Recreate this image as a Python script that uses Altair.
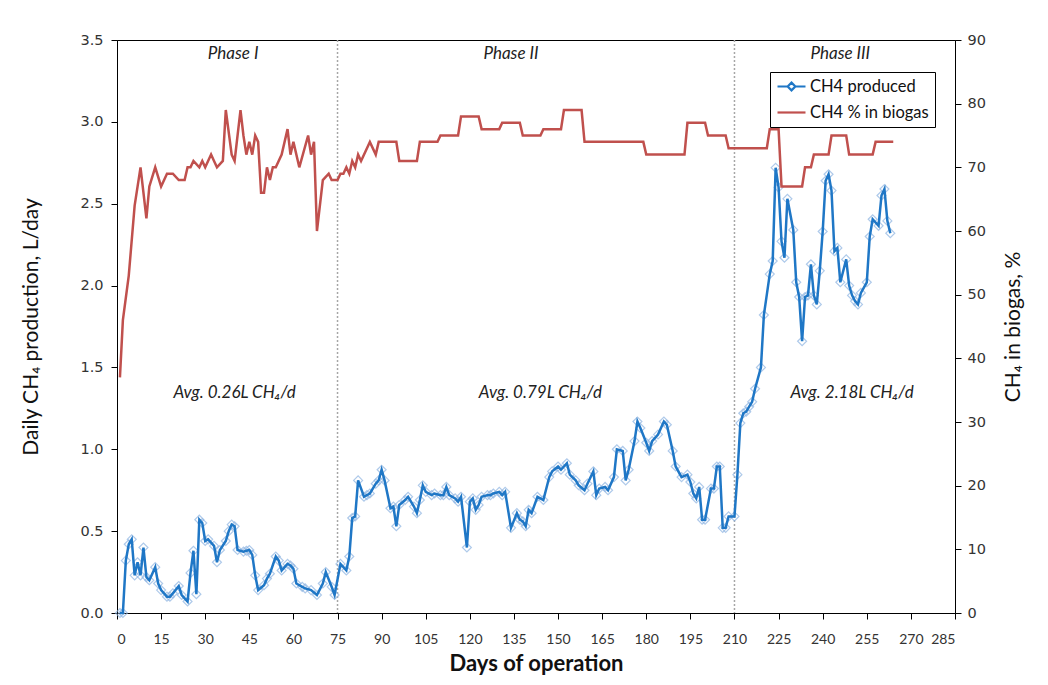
import altair as alt
import pandas as pd

# ---------------- data ----------------
prod_day = [1, 2, 3, 4, 5, 6, 7, 8, 9, 10, 11, 13, 14, 15, 17, 18, 19, 21, 22, 24, 25, 26, 27, 28, 29,
            30, 31, 33, 34, 35, 37, 38, 39, 40, 41, 43, 44, 45, 46, 47, 48, 50, 51, 52, 54, 55, 56, 58,
            59, 60, 61, 63, 64, 66, 68, 70, 71, 73, 74, 76, 78, 79,
            80, 81, 82, 84, 85, 86, 88, 89, 90, 91, 93, 94, 95, 96, 98, 99, 101, 102, 103, 104, 105,
            107, 108, 110, 111, 112, 113, 115, 116, 117, 119, 120, 121, 122, 123, 124, 126, 127, 128,
            130, 131, 132, 134, 136, 137, 138, 139, 140, 141, 143, 145, 147, 148, 150, 151, 153, 154,
            156, 157, 159, 160, 162, 163, 164, 166, 167, 169, 170, 172, 173, 174, 176, 177, 178, 180,
            181, 182, 184, 186, 187, 189, 190, 192, 194, 195, 196, 197, 198, 199, 200, 202, 203, 204,
            205, 206, 207, 208, 210,
            211, 212, 213, 214, 215, 216, 217, 219, 220, 222, 223, 224, 225, 226, 227, 228, 230, 231,
            232, 233, 234, 235, 236, 237, 238, 239, 240, 241, 242, 243, 244, 245, 246, 248, 249, 250,
            251, 252, 253, 255, 256, 257, 259, 260, 261, 262, 263]
prod_val = [0.00, 0.00, 0.32, 0.42, 0.45, 0.23, 0.31, 0.23, 0.40, 0.22, 0.20, 0.28, 0.18, 0.14, 0.10,
            0.10, 0.12, 0.165, 0.11, 0.07, 0.245, 0.38, 0.115, 0.57, 0.55, 0.44, 0.45, 0.41, 0.31,
            0.385, 0.44, 0.50, 0.54, 0.53, 0.385, 0.375, 0.38, 0.385, 0.355, 0.23, 0.14, 0.17, 0.21,
            0.24, 0.345, 0.32, 0.26, 0.30, 0.29, 0.27, 0.18, 0.16, 0.15, 0.14, 0.11, 0.18, 0.25, 0.16,
            0.11, 0.30, 0.26, 0.345,
            0.58, 0.59, 0.81, 0.71, 0.72, 0.73, 0.79, 0.81, 0.875, 0.81, 0.64, 0.65, 0.53, 0.66, 0.69,
            0.71, 0.65, 0.61, 0.69, 0.78, 0.74, 0.72, 0.73, 0.72, 0.72, 0.77, 0.72, 0.70, 0.68, 0.71,
            0.40, 0.68, 0.70, 0.63, 0.66, 0.71, 0.72, 0.72, 0.73, 0.74, 0.72, 0.74, 0.52, 0.61, 0.57,
            0.56, 0.53, 0.63, 0.61, 0.71, 0.69, 0.83, 0.865, 0.895, 0.875, 0.915, 0.845, 0.81, 0.78,
            0.75, 0.79, 0.865, 0.72, 0.76, 0.77, 0.75, 0.83, 1.00, 0.99, 0.81, 0.875, 1.05, 1.17, 1.13,
            1.04, 0.99, 1.05, 1.09, 1.17, 1.15, 0.99, 0.895, 0.83, 0.845, 0.80, 0.73, 0.70, 0.77, 0.57,
            0.57, 0.76, 0.76, 0.895, 0.895, 0.52, 0.52, 0.59, 0.59,
            0.845, 1.16, 1.22, 1.23, 1.26, 1.29, 1.37, 1.50, 1.82, 2.07, 2.15, 2.72, 2.60, 2.27, 2.17,
            2.53, 2.34, 2.02, 1.93, 1.66, 1.93, 1.94, 2.13, 1.94, 1.885, 2.09, 2.33, 2.64, 2.68, 2.58,
            2.21, 2.23, 2.02, 2.16, 2.00, 1.94, 1.905, 1.885, 1.955, 2.02, 2.30, 2.405, 2.365, 2.55,
            2.59, 2.395, 2.32]

pct_day = [1, 2, 4, 6, 8, 10, 11, 13, 15, 17, 19, 21, 23, 24, 25, 26, 28, 29, 30, 32, 33, 34, 36, 37,
           39, 40, 42, 43, 44, 45, 46, 47, 48, 49, 50, 51, 52, 53, 54, 56, 58, 59, 60, 62, 65, 66, 67,
           68, 70, 72, 73, 75, 76, 77, 78, 79, 80, 81, 82, 83, 86, 88, 89, 95, 96, 102, 103, 109, 110,
           116, 117, 123, 124, 130, 131, 137, 138, 144, 145, 151, 152, 158, 159, 179, 180, 193, 194,
           200, 201, 207, 208, 221, 222, 225, 226, 233, 234, 236, 237, 242, 243, 248, 249, 257, 258, 264]
pct_val = [37, 46, 53, 64, 70, 62, 67, 70, 67, 69, 69, 68, 68, 70, 70, 71, 70, 71, 70, 72, 71, 70, 71,
           79, 72, 71, 79, 75, 72, 74, 72, 75, 74, 66, 66, 70, 68, 70, 70, 72, 76, 72, 74, 70, 75, 72,
           74, 60, 68, 69, 68, 68, 69, 69, 70, 69, 71, 70, 72, 71, 74, 72, 74, 74, 71, 71, 74, 74, 75,
           75, 78, 78, 76, 76, 77, 77, 75, 75, 76, 76, 79, 79, 74, 74, 72, 72, 77, 77, 75, 75, 73, 73,
           76, 76, 67, 67, 70, 70, 72, 72, 75, 75, 72, 72, 74, 74]

phase_bounds = [75, 210]

note_text = ["Phase I", "Phase II", "Phase III",
             "Avg. 0.26L CH\u2084/d", "Avg. 0.79L CH\u2084/d", "Avg. 2.18L CH\u2084/d"]
note_day = [39.5, 134, 246, 40, 144, 250]
note_val = [3.415, 3.415, 3.415, 1.345, 1.345, 1.345]

series_names = ["CH4 produced", "CH4 % in biogas"]

# ---------------- colours / styles ----------------
BLUE = "#1F77C6"
BLUE_MARK = "#8DB4E2"
RED = "#C0504D"
TICK_FONT = "DejaVu Sans"
TITLE_FONT = "Lato"

prod_df = pd.DataFrame({"day": prod_day, "val": prod_val})
pct_df = pd.DataFrame({"day": pct_day, "pct": pct_val})
bound_df = pd.DataFrame({"day": phase_bounds})
note_df = pd.DataFrame({"day": note_day, "val": note_val, "label": note_text})
legend_df = pd.DataFrame({"series": series_names})

x_enc = alt.X("day:Q",
              scale=alt.Scale(domain=[0, 285], nice=False, zero=True),
              axis=alt.Axis(values=list(range(0, 286, 15)), title="Days of operation",
                            grid=False, tickSize=6, labelPadding=13,
                            labelFont=TITLE_FONT, labelFontSize=14, labelColor="#333333",
                            titleFont=TITLE_FONT, titleFontSize=22, titleFontWeight="bold",
                            titleColor="#111111", titlePadding=7,
                            domainColor="black", tickColor="black"))

left_scale = alt.Scale(domain=[0, 3.5], nice=False)
left_axis = alt.Axis(values=[0, 0.5, 1.0, 1.5, 2.0, 2.5, 3.0, 3.5], format=".1f",
                     title="Daily CH\u2084 production, L/day", orient="left", grid=False,
                     tickSize=6, labelPadding=8, labelFont=TICK_FONT, labelFontSize=14.5,
                     labelColor="#333333", titleFont=TITLE_FONT, titleFontSize=21,
                     titleFontWeight="normal", titleColor="#111111", titlePadding=38,
                     domainColor="black", tickColor="black")

right_axis = alt.Axis(values=list(range(0, 91, 10)), title="CH\u2084 in biogas, %",
                      orient="right", grid=False, tickSize=6, labelPadding=6,
                      labelFont=TICK_FONT, labelFontSize=14.5, labelColor="#333333",
                      titleFont=TITLE_FONT, titleFontSize=21, titleFontWeight="normal",
                      titleColor="#111111", titlePadding=38, titleAngle=270,
                      titleBaseline="bottom",
                      domainColor="black", tickColor="black")

bounds = alt.Chart(bound_df).mark_rule(color="#A6A6A6", strokeDash=[2, 2], strokeWidth=1.5).encode(
    x=x_enc)

prod_pts = alt.Chart(prod_df).mark_point(shape="diamond", filled=False, size=80,
                                          color=BLUE_MARK, strokeWidth=1.2).encode(
    x=x_enc, y=alt.Y("val:Q", scale=left_scale, axis=left_axis))

prod_line = alt.Chart(prod_df).mark_line(color=BLUE, strokeWidth=2.5).encode(
    x=x_enc, y=alt.Y("val:Q", scale=left_scale, axis=left_axis))

notes = alt.Chart(note_df).mark_text(font=TITLE_FONT, fontSize=17, fontStyle="italic",
                                     color="#222222", align="center", baseline="middle").encode(
    x=x_enc, y=alt.Y("val:Q", scale=left_scale, axis=left_axis), text="label:N")

leg_common = dict(orient="none", legendX=653, legendY=32, title=None,
                  strokeColor="black", fillColor="white", padding=6,
                  labelFont=TITLE_FONT, labelFontSize=16.5, labelColor="#111111",
                  symbolSize=196, symbolStrokeWidth=2.2, symbolOpacity=1, rowPadding=9,
                  labelOffset=17)

legend_layer = alt.Chart(legend_df).mark_point(opacity=0, filled=False).encode(
    color=alt.Color("series:N", scale=alt.Scale(domain=series_names, range=[BLUE, RED]),
                    legend=alt.Legend(**leg_common)),
    shape=alt.Shape("series:N",
                    scale=alt.Scale(domain=series_names,
                                    range=["M-1,0H0.45M1.55,0H3M1,-0.55L1.55,0L1,0.55L0.45,0Z",
                                           "M-1,0H3"]),
                    legend=alt.Legend(**leg_common)))

left = alt.layer(bounds, prod_pts, prod_line, notes, legend_layer)

pct_line = alt.Chart(pct_df).mark_line(color=RED, strokeWidth=2.5).encode(
    x=x_enc,
    y=alt.Y("pct:Q", scale=alt.Scale(domain=[0, 90], nice=False), axis=right_axis))

chart = alt.layer(left, pct_line).resolve_scale(y="independent").properties(
    width=838, height=573,
    padding={"left": 109, "top": 32, "right": 85, "bottom": 64},
    autosize=alt.AutoSizeParams(type="none"),
    background="white",
).configure_view(stroke="black", strokeWidth=1)

chart.save("out.html", embed_options={"renderer": "svg", "actions": False})
